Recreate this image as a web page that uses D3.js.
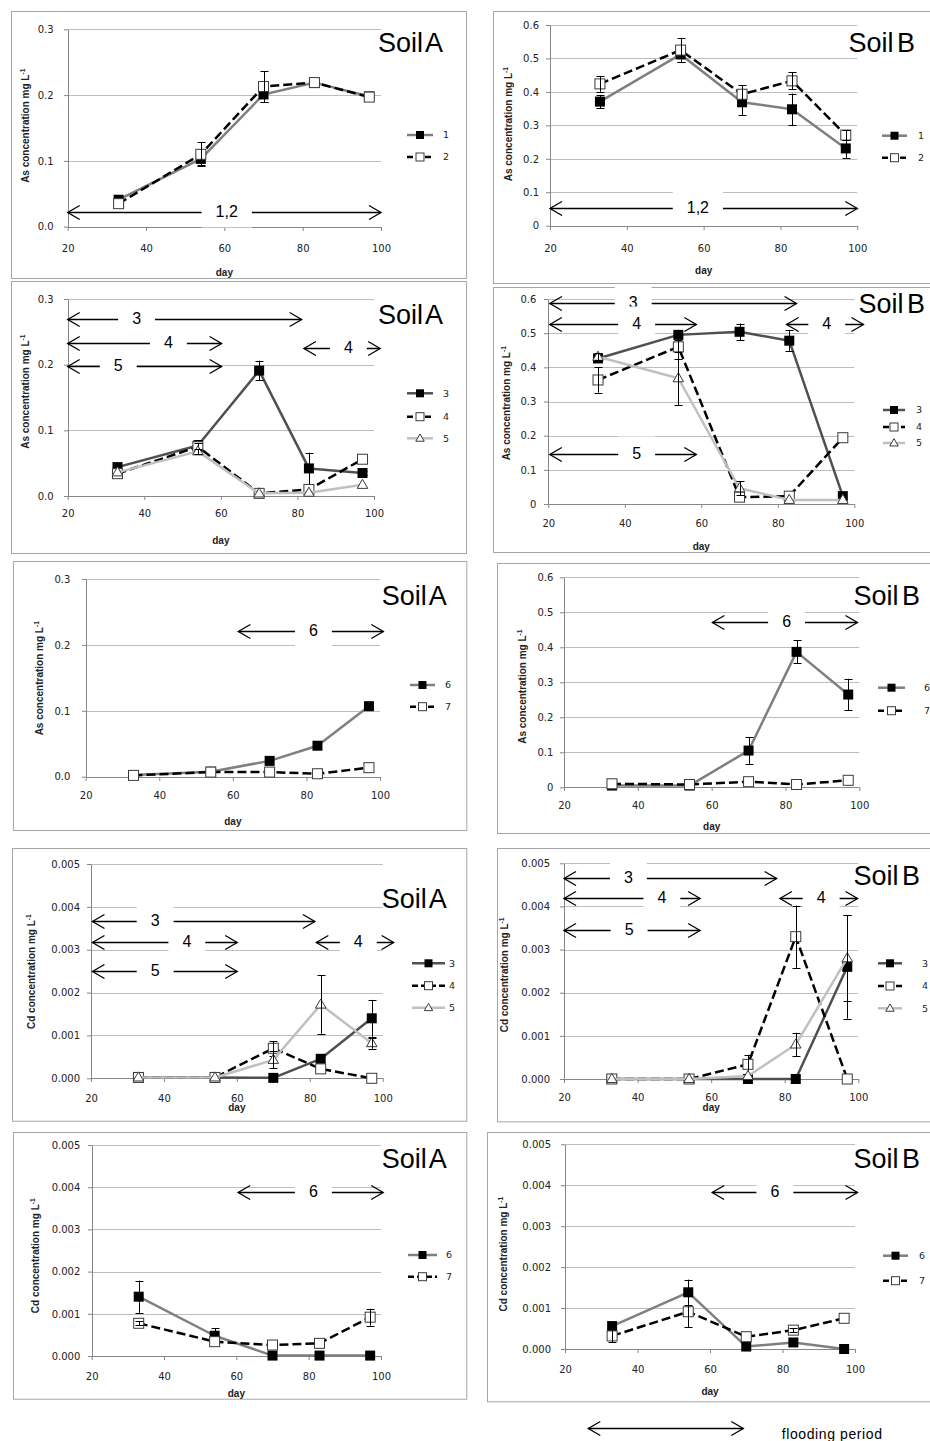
<!DOCTYPE html>
<html><head><meta charset="utf-8">
<script src="https://cdn.jsdelivr.net/npm/d3@7"></script>
<style>body{margin:0;background:#fff} svg{display:block}</style>
</head><body>
<script>
// ---------- DATA ----------
const days = [33, 54, 70, 83, 97];
const xTicks = [20, 40, 60, 80, 100];
const asATicks = [0, 0.1, 0.2, 0.3];
const asATickLabels = ["0.0", "0.1", "0.2", "0.3"];
const asBTicks = [0, 0.1, 0.2, 0.3, 0.4, 0.5, 0.6];
const asBTickLabels = ["0", "0.1", "0.2", "0.3", "0.4", "0.5", "0.6"];
const cdTicks = [0, 0.001, 0.002, 0.003, 0.004, 0.005];
const cdTickLabels = ["0.000", "0.001", "0.002", "0.003", "0.004", "0.005"];
const soilTitles = ["Soil A", "Soil B"];
const elementLabels = ["As concentration  mg L", "Cd concentration  mg L"];
const xTitle = "day";
const floodLabel = "flooding period";

// As, soil A, treatments 1,2
const asA_1 = [0.041, 0.103, 0.201, 0.219, 0.198];
const asA_1_err = [0, 0.009, 0.012, 0, 0];
const asA_2 = [0.035, 0.110, 0.213, 0.219, 0.197];
const asA_2_err = [0, 0.018, 0.023, 0, 0];
// As, soil B, treatments 1,2
const asB_1 = [0.371, 0.512, 0.369, 0.348, 0.231];
const asB_1_err = [0.020, 0.022, 0.038, 0.047, 0.030];
const asB_2 = [0.424, 0.525, 0.393, 0.433, 0.271];
const asB_2_err = [0.024, 0.037, 0.027, 0.025, 0.015];
// As, soil A, treatments 3,4,5
const asA_3 = [0.044, 0.077, 0.191, 0.042, 0.035];
const asA_3_err = [0.003, 0.008, 0.015, 0.024, 0.003];
const asA_4 = [0.034, 0.075, 0.004, 0.010, 0.056];
const asA_4_err = [0, 0.005, 0, 0, 0];
const asA_5 = [0.036, 0.068, 0.004, 0.005, 0.017];
const asA_5_err = [0, 0.004, 0, 0, 0];
// As, soil B, treatments 3,4,5
const asB_3 = [0.426, 0.495, 0.504, 0.478, 0.023];
const asB_3_err = [0.010, 0.015, 0.024, 0.030, 0];
const asB_4 = [0.363, 0.460, 0.020, 0.023, 0.194];
const asB_4_err = [0.037, 0.035, 0, 0, 0];
const asB_5 = [0.431, 0.368, 0.046, 0.012, 0.012];
const asB_5_err = [0.010, 0.078, 0.020, 0, 0];
// As, treatments 6,7
const asA_6 = [0.0025, 0.0076, 0.024, 0.047, 0.107];
const asA_7 = [0.002, 0.007, 0.007, 0.0045, 0.0137];
const asB_6 = [0.005, 0.005, 0.105, 0.387, 0.265];
const asB_6_err = [0, 0, 0.038, 0.033, 0.045];
const asB_7 = [0.010, 0.008, 0.016, 0.008, 0.020];
// Cd, soil A, treatments 3,4,5
const cdA_3 = [0.00002, 0.00002, 0.00001, 0.000455, 0.00140];
const cdA_3_err = [0, 0, 0, 0, 0.00043];
const cdA_4 = [0.00002, 0.00002, 0.00070, 0.00022, 0.0];
const cdA_4_err = [0, 0, 0.00017, 0, 0];
const cdA_5 = [0.00002, 0.00002, 0.00043, 0.00172, 0.00082];
const cdA_5_err = [0, 0, 0.00020, 0.00068, 0.00013];
// Cd, soil B, treatments 3,4,5
const cdB_3 = [0, 0, 0, 0, 0.00260];
const cdB_3_err = [0, 0, 0, 0, 0.00120];
const cdB_4 = [0, 0, 0.00034, 0.00330, 0];
const cdB_4_err = [0, 0, 0.00022, 0.00072, 0];
const cdB_5 = [0, 0, 0.00007, 0.00080, 0.00280];
const cdB_5_err = [0, 0, 0, 0.00027, 0.00100];
// Cd, treatments 6,7
const cdA_6 = [0.001405, 0.00048, 0.00001, 0.00001, 0.00001];
const cdA_6_err = [0.00038, 0.00018, 0, 0, 0];
const cdA_7 = [0.000775, 0.00034, 0.00026, 0.00030, 0.00092];
const cdA_7_err = [0.00005, 0, 0, 0, 0.00020];
const cdB_6 = [0.00056, 0.001385, 0.00006, 0.00016, 0.0];
const cdB_6_err = [0, 0.00031, 0, 0, 0];
const cdB_7 = [0.00032, 0.00091, 0.00030, 0.00046, 0.00075];
const cdB_7_err = [0.00016, 0.00038, 0, 0.00005, 0];

// flooding-period arrows: [label, start day, end day, level, label day]
const arrows_asA_12 = [["1,2", 20, 100, 0.022, 60.6]];
const arrows_asB_12 = [["1,2", 20, 100, 0.052, 58.5]];
const arrows_asA_345 = [["3", 20, 81.1, 0.269, 38], ["4", 20, 60.2, 0.233, 46.3], ["5", 20, 60.2, 0.198, 33.2], ["4", 81.7, 101.6, 0.226, 93.3]];
const arrows_asB_345 = [["3", 20.4, 84.9, 0.589, 42.2], ["4", 20.4, 58.7, 0.526, 43.1], ["4", 82.3, 102.4, 0.526, 92.8], ["5", 20.4, 58.7, 0.145, 43.1]];
const arrows_asA_67 = [["6", 61.5, 100.9, 0.221, 81.9]];
const arrows_asB_67 = [["6", 60.2, 99.5, 0.473, 80.3]];
const arrows_cdA_345 = [["3", 20.4, 81.4, 0.003677, 37.6], ["4", 20.4, 60.1, 0.003187, 46.3], ["4", 81.8, 103, 0.003187, 93.3], ["5", 20.4, 60.1, 0.00251, 37.6]];
const arrows_cdB_345 = [["3", 20, 77.8, 0.004666, 37.5], ["4", 20, 57, 0.0042, 46.6], ["4", 78.7, 99.8, 0.0042, 89.9], ["5", 20, 57, 0.003454, 37.7]];
const arrows_cdA_67 = [["6", 60.5, 100.6, 0.00389, 81.3]];
const arrows_cdB_67 = [["6", 60.6, 100.7, 0.00384, 77.9]];

// ---------- STYLES ----------
const FONT = "'Liberation Sans', Arial, sans-serif";
const TFONT = "'DejaVu Sans', Verdana, sans-serif";
const seriesStyle = {
  "1": {stroke: "#7f7f7f", dash: null, marker: "filled"},
  "2": {stroke: "#000", dash: "9,4", marker: "open"},
  "3": {stroke: "#505050", dash: null, marker: "filled"},
  "4": {stroke: "#000", dash: "9,4", marker: "open"},
  "5": {stroke: "#c0c0c0", dash: null, marker: "tri"},
  "6": {stroke: "#7f7f7f", dash: null, marker: "filled"},
  "7": {stroke: "#000", dash: "9,4", marker: "open"}
};

// ---------- LAYOUT ----------
const panels = [
  {frame: [11, 11, 466, 278], plot: [67.7, 381, 29.3, 226.7], ymax: 0.3, yT: asATicks, yL: asATickLabels, yPad: 14.4, xLabY: 248, dayY: 272, yLab: [25, 125.8], el: 0, soil: 0, title: [443, 52],
   legend: {x0: 407, x1: 433, tx: 443, ys: [135, 157]},
   series: [["1", asA_1, asA_1_err], ["2", asA_2, asA_2_err]], arrows: arrows_asA_12},
  {frame: [493, 11, 931, 283], plot: [550, 857.3, 25, 225.7], ymax: 0.6, yT: asBTicks, yL: asBTickLabels, yPad: 11, xLabY: 248.3, dayY: 270, yLab: [508.3, 124.2], el: 0, soil: 1, title: [915, 52],
   legend: {x0: 882, x1: 907, tx: 918, ys: [135.7, 157.7]},
   series: [["1", asB_1, asB_1_err], ["2", asB_2, asB_2_err]], arrows: arrows_asB_12},
  {frame: [11, 281, 466, 553], plot: [67.7, 374, 299, 496], ymax: 0.3, yT: asATicks, yL: asATickLabels, yPad: 14.4, xLabY: 513.3, dayY: 540, yLab: [25, 391.7], el: 0, soil: 0, title: [443, 324],
   legend: {x0: 407, x1: 433, tx: 443, ys: [393.3, 416.7, 438.3]},
   series: [["3", asA_3, asA_3_err], ["4", asA_4, asA_4_err], ["5", asA_5, asA_5_err]], arrows: arrows_asA_345},
  {frame: [493, 287, 931, 552], plot: [548.3, 854.3, 299, 504], ymax: 0.6, yT: asBTicks, yL: asBTickLabels, yPad: 11.6, xLabY: 523.3, dayY: 546.7, yLab: [506.7, 403.3], el: 0, soil: 1, title: [925, 313.3],
   legend: {x0: 883, x1: 905, tx: 916, ys: [410, 427, 443]},
   series: [["3", asB_3, asB_3_err], ["4", asB_4, asB_4_err], ["5", asB_5, asB_5_err]], arrows: arrows_asB_345},
  {frame: [12.7, 561, 466, 830], plot: [85.7, 380, 579, 776.7], ymax: 0.3, yT: asATicks, yL: asATickLabels, yPad: 15.7, xLabY: 795.7, dayY: 821.7, yLab: [39.3, 678.3], el: 0, soil: 0, title: [446.7, 605],
   legend: {x0: 410, x1: 435, tx: 445, ys: [685, 706.7]},
   series: [["6", asA_6, null], ["7", asA_7, null]], arrows: arrows_asA_67},
  {frame: [496.7, 563.3, 931, 833.3], plot: [564, 859.3, 577.3, 787.3], ymax: 0.6, yT: asBTicks, yL: asBTickLabels, yPad: 10.7, xLabY: 805.7, dayY: 826.7, yLab: [522.3, 686.7], el: 0, soil: 1, title: [920, 605],
   legend: {x0: 878, x1: 905, tx: 924, ys: [687.7, 710.7]},
   series: [["6", asB_6, asB_6_err], ["7", asB_7, null]], arrows: arrows_asB_67},
  {frame: [11.7, 848.3, 466, 1121], plot: [91, 382.7, 864, 1078.3], ymax: 0.005, yT: cdTicks, yL: cdTickLabels, yPad: 11, xLabY: 1098.3, dayY: 1107, yLab: [31.7, 971.7], el: 1, soil: 0, title: [446.7, 908.3],
   legend: {x0: 412, x1: 445, tx: 449, ys: [963.3, 985.7, 1007.7]},
   series: [["3", cdA_3, cdA_3_err], ["4", cdA_4, cdA_4_err], ["5", cdA_5, cdA_5_err]], arrows: arrows_cdA_345},
  {frame: [496.7, 848.3, 931, 1121.7], plot: [564, 858.3, 863.3, 1079], ymax: 0.005, yT: cdTicks, yL: cdTickLabels, yPad: 14, xLabY: 1097.3, dayY: 1107, yLab: [504.3, 975], el: 1, soil: 1, title: [920, 885],
   legend: {x0: 878, x1: 902, tx: 922, ys: [963.3, 986, 1008.3]},
   series: [["3", cdB_3, cdB_3_err], ["4", cdB_4, cdB_4_err], ["5", cdB_5, cdB_5_err]], arrows: arrows_cdB_345},
  {frame: [12.7, 1132.3, 466, 1399], plot: [91.7, 381, 1145, 1356], ymax: 0.005, yT: cdTicks, yL: cdTickLabels, yPad: 11.7, xLabY: 1376.7, dayY: 1393.3, yLab: [35, 1255.8], el: 1, soil: 0, title: [446.7, 1168.3],
   legend: {x0: 408, x1: 437, tx: 446, ys: [1255, 1276.7]},
   series: [["6", cdA_6, cdA_6_err], ["7", cdA_7, cdA_7_err]], arrows: arrows_cdA_67},
  {frame: [486.7, 1131.7, 931, 1401], plot: [565, 855, 1144.3, 1349], ymax: 0.005, yT: cdTicks, yL: cdTickLabels, yPad: 14, xLabY: 1369, dayY: 1391.7, yLab: [503.3, 1254.2], el: 1, soil: 1, title: [920, 1168.3],
   legend: {x0: 883, x1: 908, tx: 919, ys: [1255.7, 1280.7]},
   series: [["6", cdB_6, cdB_6_err], ["7", cdB_7, cdB_7_err]], arrows: arrows_cdB_67}
];

// ---------- DRAW ----------
const svg = d3.select("body").append("svg").attr("width", 930).attr("height", 1441);

function drawMarker(g, type, cx, cy, s) {
  if (type === "filled") {
    g.append("rect").attr("x", cx - s / 2).attr("y", cy - s / 2).attr("width", s).attr("height", s).attr("fill", "#000");
  } else if (type === "open") {
    g.append("rect").attr("x", cx - s / 2).attr("y", cy - s / 2).attr("width", s).attr("height", s)
      .attr("fill", "#fff").attr("stroke", "#3a3a3a").attr("stroke-width", 1);
  } else {
    g.append("path").attr("d", d3.symbol(d3.symbolTriangle, s * s * 0.48)())
      .attr("transform", `translate(${cx},${cy + 0.5})`)
      .attr("fill", "#fff").attr("stroke", "#3a3a3a").attr("stroke-width", 1);
  }
}

function drawArrow(g, x1, x2, yy) {
  const hl = 12, hw = 7;
  g.append("line").attr("x1", x1).attr("x2", x2).attr("y1", yy).attr("y2", yy)
    .attr("stroke", "#000").attr("stroke-width", 1.3);
  g.append("path").attr("d", `M${x1 + hl},${yy - hw}L${x1},${yy}L${x1 + hl},${yy + hw}`)
    .attr("fill", "none").attr("stroke", "#000").attr("stroke-width", 1.3);
  g.append("path").attr("d", `M${x2 - hl},${yy - hw}L${x2},${yy}L${x2 - hl},${yy + hw}`)
    .attr("fill", "none").attr("stroke", "#000").attr("stroke-width", 1.3);
}

panels.forEach(p => {
  const g = svg.append("g");
  // frame
  g.append("rect").attr("x", Math.round(p.frame[0]) + 0.5).attr("y", Math.round(p.frame[1]) + 0.5)
    .attr("width", p.frame[2] - p.frame[0]).attr("height", p.frame[3] - p.frame[1])
    .attr("fill", "none").attr("stroke", "#a6a6a6").attr("stroke-width", 1);

  const x = d3.scaleLinear().domain([20, 100]).range([p.plot[0], p.plot[1]]);
  const y = d3.scaleLinear().domain([0, p.ymax]).range([p.plot[3], p.plot[2]]);

  // gridlines
  g.append("g").selectAll("line").data(p.yT.filter(v => v > 0)).join("line")
    .attr("x1", x(20)).attr("x2", x(100))
    .attr("y1", d => Math.round(y(d)) + 0.5).attr("y2", d => Math.round(y(d)) + 0.5)
    .attr("stroke", "#bdbdbd").attr("stroke-width", 1);

  // y axis
  const ya = g.append("g").attr("transform", `translate(${Math.round(x(20))},0)`)
    .call(d3.axisLeft(y).tickValues(p.yT).tickFormat((d, i) => p.yL[i]).tickSize(4).tickSizeOuter(0).tickPadding(p.yPad - 4));
  ya.select(".domain").attr("stroke", "#868686");
  ya.selectAll(".tick line").attr("stroke", "#868686");
  ya.selectAll("text").attr("font-family", TFONT).attr("font-size", 10).attr("fill", "#222");

  // x axis
  const xa = g.append("g").attr("transform", `translate(0,${Math.round(y(0))})`)
    .call(d3.axisBottom(x).tickValues(xTicks).tickSize(4).tickSizeOuter(0));
  xa.select(".domain").attr("stroke", "#868686");
  xa.selectAll(".tick line").attr("stroke", "#868686");
  xa.selectAll("text").attr("font-family", TFONT).attr("font-size", 10).attr("fill", "#222")
    .attr("y", p.xLabY - Math.round(y(0))).attr("dy", "0.35em");

  // axis titles
  g.append("text").attr("x", (x(20) + x(100)) / 2).attr("y", p.dayY).attr("dy", "0.35em")
    .attr("text-anchor", "middle").attr("font-family", FONT).attr("font-weight", "bold")
    .attr("font-size", 10).attr("fill", "#222").text(xTitle);
  const yt = g.append("text").attr("transform", `translate(${p.yLab[0]},${p.yLab[1]}) rotate(-90)`)
    .attr("text-anchor", "middle").attr("dy", "0.35em").attr("font-family", FONT).attr("font-weight", "bold")
    .attr("font-size", 10).attr("fill", "#222");
  yt.append("tspan").text(elementLabels[p.el]);
  yt.append("tspan").attr("font-size", 6.5).attr("dy", "-0.6em").text("-1");

  // soil title
  g.append("text").attr("x", p.title[0]).attr("y", p.title[1]).attr("text-anchor", "end")
    .attr("font-family", FONT).attr("font-size", 27).attr("word-spacing", -4).attr("fill", "#000")
    .text(soilTitles[p.soil]);

  // flooding arrows
  p.arrows.forEach(a => {
    const [lab, d0, d1, lev, ld] = a;
    const yy = Math.round(y(lev)) + 0.5;
    drawArrow(g, x(d0), x(d1), yy);
    const t = g.append("text").attr("x", x(ld)).attr("y", yy - 1).attr("dy", "0.35em")
      .attr("text-anchor", "middle").attr("font-family", FONT).attr("font-size", 16).attr("fill", "#000").text(lab);
    const w = t.node().getComputedTextLength();
    g.insert("rect", () => t.node()).attr("x", x(ld) - w / 2 - 14).attr("y", yy - 18)
      .attr("width", w + 28).attr("height", 33).attr("fill", "#fff");
  });

  // series
  const line = d3.line().x((d, i) => x(days[i])).y(d => y(d));
  p.series.forEach(s => {
    const [id, vals, errs] = s;
    const st = seriesStyle[id];
    g.append("path").datum(vals).attr("d", line).attr("fill", "none")
      .attr("stroke", st.stroke).attr("stroke-width", 2.5)
      .attr("stroke-dasharray", st.dash).attr("stroke-linejoin", "round");
    const mg = g.append("g");
    vals.forEach((v, i) => drawMarker(mg, st.marker, x(days[i]), y(v), 10));
    if (errs) {
      const eg = g.append("g").attr("stroke", "#000").attr("stroke-width", 1);
      errs.forEach((e, i) => {
        if (e <= 0) return;
        const cx = Math.round(x(days[i])) + 0.5;
        const yA = y(vals[i] + e), yB = y(Math.max(0, vals[i] - e));
        eg.append("line").attr("x1", cx).attr("x2", cx).attr("y1", yA).attr("y2", yB);
        eg.append("line").attr("x1", cx - 4).attr("x2", cx + 4).attr("y1", Math.round(yA) + 0.5).attr("y2", Math.round(yA) + 0.5);
        eg.append("line").attr("x1", cx - 4).attr("x2", cx + 4).attr("y1", Math.round(yB) + 0.5).attr("y2", Math.round(yB) + 0.5);
      });
    }
  });

  // legend
  p.series.forEach((s, k) => {
    const st = seriesStyle[s[0]];
    const ly = p.legend.ys[k];
    g.append("line").attr("x1", p.legend.x0).attr("x2", p.legend.x1).attr("y1", ly).attr("y2", ly)
      .attr("stroke", st.stroke).attr("stroke-width", 2.5).attr("stroke-dasharray", st.dash ? "6,3" : null);
    drawMarker(g, st.marker, (p.legend.x0 + p.legend.x1) / 2, ly, 8);
    g.append("text").attr("x", p.legend.tx).attr("y", ly).attr("dy", "0.35em")
      .attr("font-family", TFONT).attr("font-size", 9.5).attr("fill", "#222").text(s[0]);
  });
});

// bottom legend: flooding period
const lg = svg.append("g");
drawArrow(lg, 588.3, 743.3, 1428.5);
lg.append("text").attr("x", 781.7).attr("y", 1438.5).attr("font-family", FONT).attr("font-size", 14)
  .attr("letter-spacing", 0.6).attr("fill", "#000").text(floodLabel);
</script>
</body></html>
